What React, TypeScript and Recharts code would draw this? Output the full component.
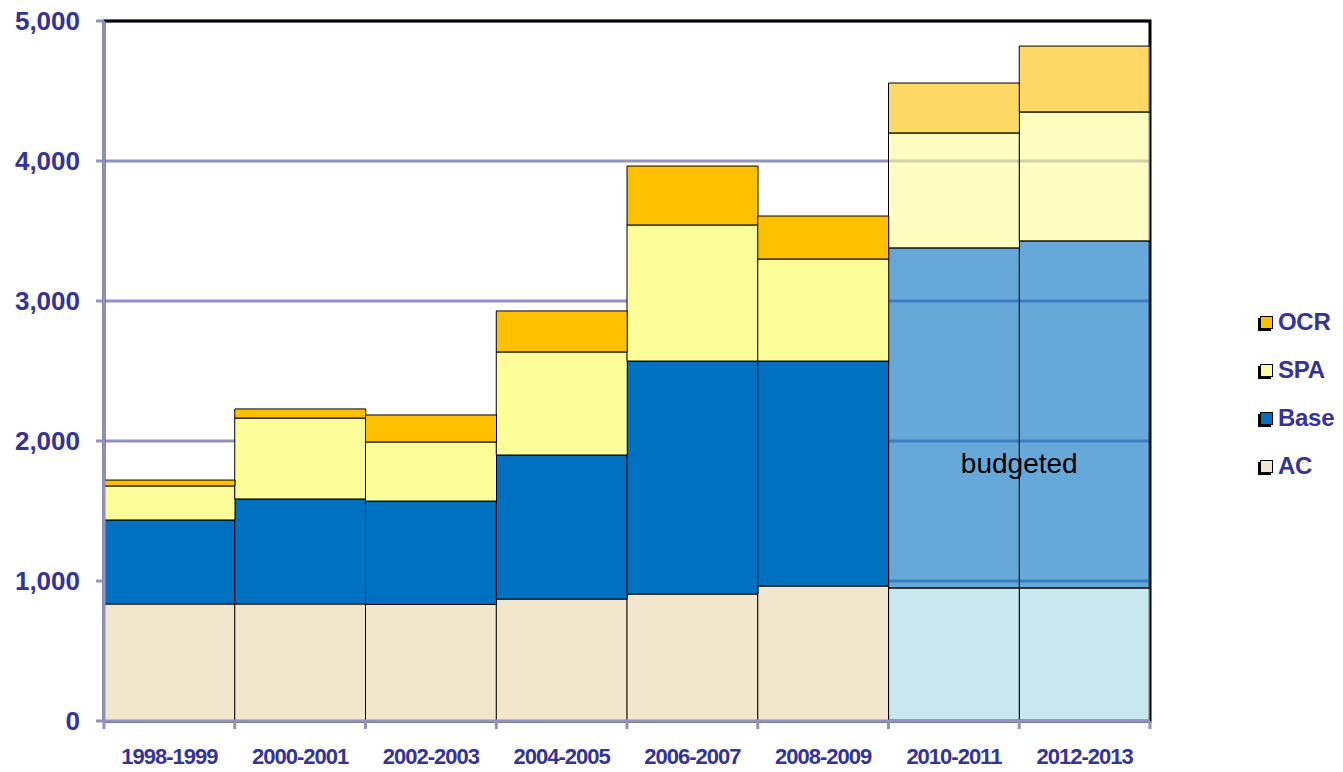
import React from 'react';
import { BarChart, Bar, XAxis, YAxis, CartesianGrid, Legend, Cell, ReferenceArea } from 'recharts';

const categories = ['1998-1999', '2000-2001', '2002-2003', '2004-2005', '2006-2007', '2008-2009', '2010-2011', '2012-2013'];
const acValues = [836, 836, 833, 871, 907, 964, 950, 950];
const baseValues = [600, 750, 738, 1029, 1664, 1607, 2429, 2479];
const spaValues = [243, 578, 422, 736, 972, 729, 821, 921];
const ocrValues = [42, 65, 193, 293, 421, 307, 357, 471];
const budgeted = [false, false, false, false, false, false, true, true];
const yTicks = [0, 1000, 2000, 3000, 4000, 5000];
const seriesKeys = ['ac', 'base', 'spa', 'ocr'];
const seriesLabels = ['AC', 'Base', 'SPA', 'OCR'];

const COLORS: Record<string, string> = { ac: '#f2e6cd', base: '#0070c0', spa: '#fdfd99', ocr: '#ffc000' };
const BUDGET_COLORS: Record<string, string> = { ac: '#a5dae8', base: '#0070c0', spa: '#fdfd99', ocr: '#ffc000' };
const AXIS_COLOR = '#9292c2';
const TEXT_COLOR = '#333399';
const FONT = '"Liberation Sans", Arial, sans-serif';

const data = categories.map((name, i) => ({
  name,
  ac: acValues[i],
  base: baseValues[i],
  spa: spaValues[i],
  ocr: ocrValues[i],
  budgeted: budgeted[i],
}));

const XTick = (props: any) => {
  const { x, y, payload, index, width, visibleTicksCount } = props;
  const count = visibleTicksCount || categories.length;
  const bw = (width || 1046) / count;
  const left = x - bw / 2;
  const right = x + bw / 2;
  return (
    <g>
      <line x1={left} x2={left} y1={y} y2={y + 8} stroke={AXIS_COLOR} strokeWidth={3} />
      {index === count - 1 && (
        <line x1={right} x2={right} y1={y} y2={y + 8} stroke={AXIS_COLOR} strokeWidth={3} />
      )}
      <text
        x={x}
        y={y + 43}
        textAnchor="middle"
        fill={TEXT_COLOR}
        fontFamily={FONT}
        fontWeight="bold"
        fontSize={22}
        letterSpacing={-1}
      >
        {payload.value}
      </text>
    </g>
  );
};

const LegendContent = () => {
  const items = [...seriesKeys].reverse();
  const labels = [...seriesLabels].reverse();
  return (
    <div style={{ width: 80, fontFamily: FONT, fontWeight: 'bold', fontSize: 24, letterSpacing: -0.3, color: TEXT_COLOR, whiteSpace: 'nowrap' }}>
      {items.map((k, i) => (
        <div key={k} style={{ display: 'flex', alignItems: 'center', height: 48 }}>
          <span
            style={{
              display: 'inline-block',
              flex: '0 0 auto',
              width: 11,
              height: 11,
              background: COLORS[k],
              border: '1px solid #000',
              boxShadow: '-2px 2px 0 #000',
              marginLeft: 2,
              marginRight: 5,
            }}
          />
          <span>{labels[i]}</span>
        </div>
      ))}
    </div>
  );
};

export default function App() {
  return (
    <div style={{ width: 1343, height: 772, margin: '-8px 0 -8px -8px' }}>
      <BarChart
        width={1343}
        height={772}
        data={data}
        margin={{ top: 21, right: 113, bottom: 0, left: 8 }}
        barCategoryGap={0}
        barGap={0}
      >
        <CartesianGrid vertical={false} stroke={AXIS_COLOR} strokeWidth={3} />
        <ReferenceArea
          x1={categories[0]}
          x2={categories[categories.length - 1]}
          y1={0}
          y2={5000}
          fill="none"
          stroke="#000"
          strokeWidth={3}
          ifOverflow="visible"
        />
        {seriesKeys.map((k) => (
          <Bar key={k} dataKey={k} stackId="a" fill={COLORS[k]} stroke="#000" strokeWidth={1} isAnimationActive={false}>
            {data.map((d, i) => (
              <Cell
                key={i}
                fill={d.budgeted ? BUDGET_COLORS[k] : COLORS[k]}
                fillOpacity={d.budgeted ? 0.6 : 1}
              />
            ))}
          </Bar>
        ))}
        <XAxis
          dataKey="name"
          height={51}
          tick={<XTick />}
          tickLine={false}
          tickSize={0}
          tickMargin={0}
          axisLine={{ stroke: AXIS_COLOR, strokeWidth: 3 }}
          interval={0}
        />
        <YAxis
          width={96}
          domain={[0, 5000]}
          ticks={yTicks}
          tickFormatter={(v: number) => v.toLocaleString('en-US')}
          tick={{ fill: TEXT_COLOR, fontFamily: FONT, fontWeight: 'bold', fontSize: 26 }}
          tickLine={{ stroke: AXIS_COLOR, strokeWidth: 3 }}
          tickSize={8}
          tickMargin={16}
          axisLine={{ stroke: AXIS_COLOR, strokeWidth: 3 }}
          interval={0}
        />
        <ReferenceArea
          x1="2010-2011"
          x2="2012-2013"
          y1={1750}
          y2={1940}
          fill="none"
          stroke="none"
          ifOverflow="visible"
          label={{ value: 'budgeted', position: 'center', fontSize: 28, fill: '#000', fontFamily: FONT }}
        />
        <Legend
          layout="vertical"
          align="right"
          verticalAlign="middle"
          content={<LegendContent />}
          wrapperStyle={{ left: 1258, top: 298, width: 80 }}
        />
      </BarChart>
    </div>
  );
}
